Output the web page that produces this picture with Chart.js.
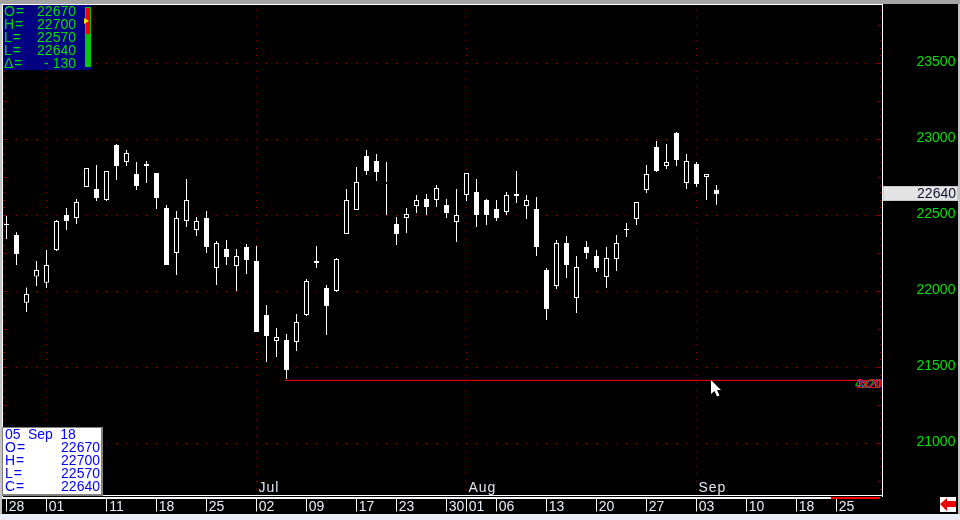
<!DOCTYPE html>
<html>
<head>
<meta charset="utf-8">
<title>05 Sep 18</title>
<script src="https://cdn.jsdelivr.net/npm/chart.js@4/dist/chart.umd.min.js"></script>
<style>
    html, body { margin: 0; padding: 0; background: #000; overflow: hidden; }
    #wrap { position: relative; width: 960px; height: 520px; }
    canvas { display: block; }
    .box { position: absolute; font: 14px/13px "Liberation Sans", sans-serif; white-space: pre; }
    .box div { position: relative; height: 13px; }
    .box span { position: absolute; top: 0; }
    #ohlc { left: 3px; top: 5px; width: 88px; height: 65px; background: #000080; color: #00e000; }
    #ohlc .k { left: 1px; letter-spacing: 1px; }
    #ohlc .v { right: 15px; }
    #stamp { left: 2px; top: 427px; width: 96px; height: 66px; background: #fff; color: #0000ff; border: 2px solid #808080; border-width: 1px 2px 2px 1px; padding-left: 2px; }
    #stamp .k { left: 0; letter-spacing: 1px; }
    #stamp .v { right: 1px; }
    #stamp .d { word-spacing: 3.5px; }
    #meter { position: absolute; left: 82px; top: 2px; width: 6px; height: 60px; background: #00c800; }
    #meter i { position: absolute; left: 1px; top: 1px; width: 4px; height: 26px; background: #f00000; }
    #meter b { position: absolute; left: -1px; top: 11px; border-left: 5px solid #e8e800; border-top: 3px solid transparent; border-bottom: 3px solid transparent; }
</style>
</head>
<body>
<div id="wrap">
    <canvas id="chart" width="960" height="520"></canvas>
    <div class="box" id="ohlc"></div>
    <div class="box" id="stamp"></div>
</div>
<script>
const opens = [22444, 22372, 21926, 22098, 22058, 22273, 22503, 22484, 22688, 22674, 22602, 22964, 22852, 22773, 22839, 22780, 22549, 22253, 22464, 22405, 22484, 22155, 22280, 22168, 22293, 22201, 21845, 21674, 21681, 21668, 21845, 22201, 22023, 22003, 22378, 22536, 22891, 22859, 22707, 22444, 22484, 22562, 22609, 22602, 22569, 22457, 22635, 22655, 22602, 22543, 22523, 22641, 22562, 22543, 22141, 22036, 22319, 21957, 22293, 22234, 22095, 22214, 22411, 22477, 22668, 22951, 22826, 23043, 22714, 22839, 22753, 22670];
const highs = [22503, 22389, 22027, 22201, 22273, 22470, 22549, 22609, 22813, 22832, 22793, 22970, 22931, 22852, 22859, 22780, 22569, 22530, 22740, 22490, 22530, 22332, 22339, 22280, 22313, 22299, 21911, 21760, 21720, 21852, 22082, 22299, 22043, 22220, 22674, 22819, 22931, 22905, 22852, 22490, 22549, 22635, 22641, 22701, 22609, 22674, 22780, 22740, 22609, 22602, 22655, 22793, 22635, 22622, 22155, 22339, 22365, 22234, 22332, 22273, 22293, 22372, 22451, 22589, 22832, 22990, 22970, 23049, 22905, 22852, 22773, 22700];
const lows = [22345, 22174, 21865, 22036, 22023, 22266, 22405, 22444, 22688, 22595, 22595, 22734, 22826, 22668, 22714, 22543, 22174, 22109, 22424, 22365, 22253, 22043, 22174, 22003, 22115, 21734, 21536, 21569, 21424, 21609, 21839, 22155, 21714, 21997, 22378, 22536, 22766, 22727, 22503, 22306, 22385, 22516, 22503, 22556, 22484, 22326, 22595, 22424, 22437, 22464, 22503, 22582, 22477, 22234, 21813, 22016, 22089, 21859, 22214, 22128, 22023, 22135, 22359, 22438, 22648, 22786, 22806, 22826, 22674, 22688, 22602, 22570];
const closes = [22437, 22247, 21984, 22141, 22174, 22464, 22464, 22589, 22813, 22615, 22793, 22826, 22911, 22694, 22826, 22615, 22174, 22484, 22602, 22464, 22293, 22319, 22227, 22234, 22207, 21734, 21707, 21701, 21484, 21799, 22069, 22188, 21905, 22214, 22602, 22720, 22793, 22786, 22720, 22378, 22510, 22602, 22556, 22681, 22516, 22503, 22780, 22503, 22503, 22484, 22635, 22628, 22602, 22293, 21885, 22319, 22174, 22161, 22253, 22155, 22220, 22319, 22405, 22589, 22773, 22793, 22852, 22865, 22859, 22707, 22773, 22640];
const gapBar = 38;

const tickSlots = [0, 4, 10, 15, 20, 25, 30, 35, 39, 44, 46, 49, 54, 59, 64, 69, 74, 79, 83];
const tickTexts = ["28", "01", "11", "18", "25", "02", "09", "17", "23", "30", "01", "06", "13", "20", "27", "03", "10", "18", "25"];
const monthSlots = [25, 46, 69];
const monthTexts = ["Jul", "Aug", "Sep"];
const monthLineSlots = [4, 25, 46, 69];
const slotCount = 88;

const priceLabels = [21000, 21500, 22000, 22500, 23000, 23500];
const lastPrice = 22640;
const trendStart = 27.85, trendEnd = 87.5, trendLevel = 21415;

const infoRows = [["O=", "22670"], ["H=", "22700"], ["L=", "22570"], ["L=", "22640"], ["Δ=", "- 130"]];
const stampDate = "05 Sep 18";
const stampRows = [["O=", "22670"], ["H=", "22700"], ["L=", "22570"], ["C=", "22640"]];

const FONT = '"Liberation Sans", sans-serif';
const DOT = "#a00000";
const TICK = "#8c0000";

const labels = Array.from({ length: slotCount }, (_, i) => i);
const yTicks = [];
for (let v = 20700; v <= 23850; v += 50) yTicks.push(v);

const rowHtml = (r) => `<div><span class="k">${r[0]}</span><span class="v">${r[1]}</span></div>`;
document.getElementById("ohlc").innerHTML = infoRows.map(rowHtml).join("") + '<div id="meter"><i></i><b></b></div>';
document.getElementById("stamp").innerHTML = `<div class="d">${stampDate}</div>` + stampRows.map(rowHtml).join("");

const background = {
    id: "background",
    beforeDraw(chart) {
        const c = chart.ctx;
        c.save();
        c.fillStyle = "#000";
        c.fillRect(0, 0, 960, 520);
        c.fillStyle = "#a4a4a4";
        c.fillRect(0, 0, 960, 4);
        c.fillStyle = "#c4c4c4";
        c.fillRect(0, 4, 2, 510);
        c.fillRect(958, 4, 2, 510);
        c.fillStyle = "#e8eef5";
        c.fillRect(0, 514, 960, 6);
        c.restore();
    },
    beforeDatasetsDraw(chart) {
        const c = chart.ctx, x = chart.scales.x, y = chart.scales.y;
        c.save();
        c.fillStyle = DOT;
        priceLabels.forEach((p) => {
            const py = Math.floor(y.getPixelForValue(p));
            labels.forEach((i) => c.fillRect(Math.floor(x.getPixelForValue(i)), py, 1, 1));
        });
        monthLineSlots.forEach((s) => {
            const px = Math.floor(x.getPixelForValue(s));
            yTicks.forEach((v) => c.fillRect(px, Math.floor(y.getPixelForValue(v)), 1, 1));
        });
        c.restore();
    },
    afterDraw(chart) {
        const c = chart.ctx, x = chart.scales.x, y = chart.scales.y;
        c.save();
        // side ticks, every 50 with a longer one every 250
        c.fillStyle = TICK;
        yTicks.forEach((v) => {
            const py = Math.floor(y.getPixelForValue(v));
            const len = v % 250 === 0 ? 4 : 2;
            c.fillRect(3, py, len, 1);
            c.fillRect(882 - len, py, len, 1);
        });
        // frame
        c.fillStyle = "#fff";
        c.fillRect(2, 4, 881, 1);
        c.fillRect(2, 4, 1, 495);
        c.fillRect(882, 4, 1, 493);
        c.fillRect(2, 495, 881, 1);
        c.fillRect(2, 497, 878, 2);
        c.fillStyle = "#ff0000";
        c.fillRect(831, 497, 49, 2);

        // month names
        c.textBaseline = "middle";
        c.textAlign = "left";
        c.font = "14px " + FONT;
        c.letterSpacing = "1px";
        c.fillStyle = "#dfe6ee";
        monthSlots.forEach((s, i) => c.fillText(monthTexts[i], x.getPixelForValue(s) + 2, 488));
        c.letterSpacing = "0px";

        // overdrawn label at the end of the trend line
        c.save();
        c.beginPath();
        c.rect(850, 375, 32, 20);
        c.clip();
        c.font = "12px " + FONT;
        c.fillStyle = "#00d000";
        c.fillText("4x20", 855, 385);
        c.fillStyle = "#8030ff";
        c.fillText("3x20", 857, 385);
        c.fillStyle = "#ff0000";
        c.fillText("2x2", 856, 385);
        c.fillText("0", 875, 385);
        c.restore();

        // last price flag
        const ly = y.getPixelForValue(lastPrice);
        c.fillStyle = "#c8c8c8";
        c.fillRect(883, Math.round(ly) - 8, 75, 15);
        c.fillStyle = "#e4e4e4";
        c.fillRect(884, Math.round(ly) - 7, 73, 13);
        c.fillStyle = "#101030";
        c.textAlign = "right";
        c.font = "14px " + FONT;
        c.fillText(String(lastPrice), 956, Math.round(ly));

        // scroll arrow button
        c.fillStyle = "#fff";
        c.fillRect(940, 497, 16, 15);
        c.fillStyle = "#f00000";
        c.beginPath();
        [[940, 504], [947, 498], [947, 501], [956, 501], [956, 507], [947, 507], [947, 511]].forEach((p, i) => (i ? c.lineTo(p[0], p[1]) : c.moveTo(p[0], p[1])));
        c.closePath();
        c.fill();

        // mouse pointer
        c.fillStyle = "#fff";
        c.beginPath();
        [[711, 380], [711, 394], [714.5, 391], [717, 396.5], [719.5, 395.5], [717, 390], [721, 390]].forEach((p, i) => (i ? c.lineTo(p[0], p[1]) : c.moveTo(p[0], p[1])));
        c.closePath();
        c.fill();
        c.restore();
    },
};

const isUp = (i) => closes[i] > opens[i];

new Chart(document.getElementById("chart"), {
    data: {
        labels,
        datasets: [
            {
                type: "line",
                xAxisID: "x2",
                data: [{ x: trendStart, y: trendLevel }, { x: trendEnd, y: trendLevel }],
                borderColor: "#ff0000",
                borderWidth: 1,
                pointRadius: 0,
            },
            {
                type: "bar",
                xAxisID: "x",
                grouped: false,
                barThickness: 5,
                inflateAmount: 0,
                borderSkipped: false,
                borderWidth: 1,
                data: opens.map((o, i) => [Math.min(o, closes[i]), Math.max(o, closes[i])]),
                backgroundColor: opens.map((_, i) => (i === gapBar || isUp(i) ? "#000" : "#fff")),
                borderColor: opens.map((_, i) => (i === gapBar ? "#000" : "#fff")),
            },
            {
                type: "bar",
                xAxisID: "x",
                grouped: false,
                barThickness: 1,
                inflateAmount: 0,
                borderWidth: 0,
                data: lows.map((l, i) => [l, highs[i]]),
                backgroundColor: "#fff",
            },
        ],
    },
    options: {
        responsive: false,
        animation: false,
        events: [],
        layout: { padding: { left: 1.5, top: 4.5, right: 0, bottom: 0 } },
        plugins: { legend: { display: false }, tooltip: { enabled: false } },
        scales: {
            x: {
                type: "category",
                offset: true,
                afterFit: (s) => { s.height = 23.5; },
                border: { display: false },
                grid: {
                    offset: false,
                    drawOnChartArea: false,
                    drawTicks: true,
                    tickLength: 15,
                    tickWidth: 1,
                    tickColor: (ctx) => (tickSlots.includes(ctx.index) ? "#ffffff" : "rgba(0,0,0,0)"),
                },
                ticks: {
                    autoSkip: false,
                    maxRotation: 0,
                    minRotation: 0,
                    padding: -13,
                    labelOffset: 10,
                    color: "#e8eef5",
                    font: { family: FONT, size: 14 },
                    callback: (v) => { const k = tickSlots.indexOf(v); return k < 0 ? "" : tickTexts[k]; },
                },
            },
            x2: { type: "linear", display: false, min: -0.5, max: 87.5 },
            y: {
                position: "right",
                min: 20651.3,
                max: 23888.2,
                afterFit: (s) => { s.width = 78.5; s.paddingTop = 0; s.paddingBottom = 0; },
                afterBuildTicks: (s) => { s.ticks = yTicks.map((value) => ({ value })); },
                border: { display: false },
                grid: { display: false, drawTicks: false },
                ticks: {
                    autoSkip: false,
                    padding: 35,
                    labelOffset: -1,
                    color: "#00e000",
                    font: { family: FONT, size: 14 },
                    callback: (v) => (priceLabels.includes(v) ? String(v) : ""),
                },
            },
        },
    },
    plugins: [background],
});
</script>
</body>
</html>
